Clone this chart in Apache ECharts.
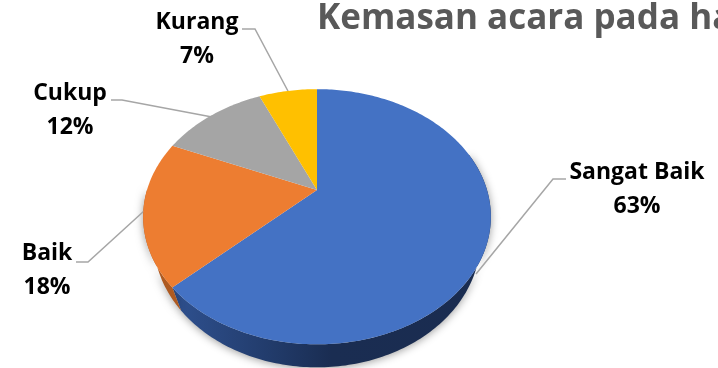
<!DOCTYPE html>
<html>
<head>
<meta charset="utf-8">
<style>html,body{margin:0;padding:0;background:#fff;overflow:hidden}#c{width:718px;height:368px}</style>
<script src="https://cdn.jsdelivr.net/npm/echarts@6/dist/echarts.min.js"></script>
</head>
<body>
<div id="c"></div>
<script>
const categories = ['Sangat Baik', 'Baik', 'Cukup', 'Kurang'];
const values = [63, 18.4, 12, 6.6];
const titleText = 'Kemasan acara pada ha';

const colors = ['#4472C4', '#ED7D31', '#A5A5A5', '#FFC000'];
const labelCentres = [[637, 172], [47, 253], [70, 93], [197, 22]];
const leaderLines = [
  [[566, 179], [553, 179], [476, 274]],
  [[76, 262], [88, 262], [144, 211]],
  [[111, 100], [122, 100], [212, 117]],
  [[242, 29], [255, 29], [289, 93]]
];

// Projection of a tilted disc onto the page
const view = { cx: 317, cy: 190, a: 170, b: 122, k: 0.2095, depth: 23, narrow: 0.94 };
function project(frac) {
  const t = frac * 2 * Math.PI, u = Math.sin(t), v = -Math.cos(t), w = 1 - view.k * v;
  return [view.cx + view.a * u / w, view.cy + view.b * v / w];
}
function rim(from, to) {
  const out = [], n = Math.max(2, Math.ceil(Math.abs(to - from) * 360));
  for (let i = 0; i <= n; i++) out.push(project(from + (to - from) * i / n));
  return out;
}
const total = values.reduce((a, b) => a + b, 0);
const starts = [];
values.reduce((s, v, i) => (starts[i] = s / total, s + v), 0);

const font = '"Open Sans", Lato, sans-serif';
const rows = categories.map((c, i) => [i, values[i]]);
const chart = echarts.init(document.getElementById('c'), null, { renderer: 'canvas' });

const sideFill = [
  new echarts.graphic.LinearGradient(0, 0, 1, 0, [
    { offset: 0, color: '#2f5190' }, { offset: 0.3, color: '#223c6c' },
    { offset: 0.5, color: '#1a2d52' }, { offset: 1, color: '#1a2c50' }]),
  '#AE5A21'
];

chart.setOption({
  animation: false,
  backgroundColor: '#ffffff',
  title: {
    text: titleText, left: 317, top: 2, padding: 0,
    textStyle: { fontFamily: font, fontWeight: 'bold', fontSize: 35, color: '#595959' }
  },
  series: [
    { // visible rim of the disc
      type: 'custom', coordinateSystem: 'none', data: rows, z: 1, silent: true,
      renderItem(params, api) {
        const i = api.value(0);
        const from = starts[i], to = from + api.value(1) / total;
        const a = Math.max(from, 0.2), b = Math.min(to, 0.75);
        if (a >= b) return { type: 'group', children: [] };
        const arc = rim(a, b);
        const low = arc.map(p => [view.cx + (p[0] - view.cx) * view.narrow, p[1] + view.depth]).reverse();
        return {
          type: 'polygon', shape: { points: arc.concat(low) },
          style: { fill: sideFill[i], shadowBlur: 9, shadowColor: 'rgba(0,0,0,0.4)', shadowOffsetY: 1 }
        };
      }
    },
    { // leader lines
      type: 'custom', coordinateSystem: 'none', data: rows, z: 2, silent: true,
      renderItem(params, api) {
        return {
          type: 'polyline', shape: { points: leaderLines[api.value(0)] },
          style: { fill: 'none', stroke: '#A6A6A6', lineWidth: 1.5 }
        };
      }
    },
    { // top face slices
      type: 'custom', coordinateSystem: 'none', data: rows, z: 3, silent: true,
      renderItem(params, api) {
        const i = api.value(0);
        const from = starts[i], to = from + api.value(1) / total;
        return {
          type: 'polygon',
          shape: { points: [[view.cx, view.cy]].concat(rim(from, to)) },
          style: { fill: colors[i] }
        };
      }
    },
    { // data labels
      type: 'custom', coordinateSystem: 'none', data: rows, z: 4, silent: true,
      renderItem(params, api) {
        const i = api.value(0), c = labelCentres[i];
        const mk = (text, y) => ({
          type: 'text',
          style: { text, x: c[0], y, align: 'center', verticalAlign: 'middle',
                   font: 'bold 23px ' + font, fill: '#000000' }
        });
        return { type: 'group', children: [
          mk(categories[i], c[1]),
          mk(Math.round(api.value(1) / total * 100) + '%', c[1] + 34)
        ] };
      }
    }
  ]
});
</script>
</body>
</html>
